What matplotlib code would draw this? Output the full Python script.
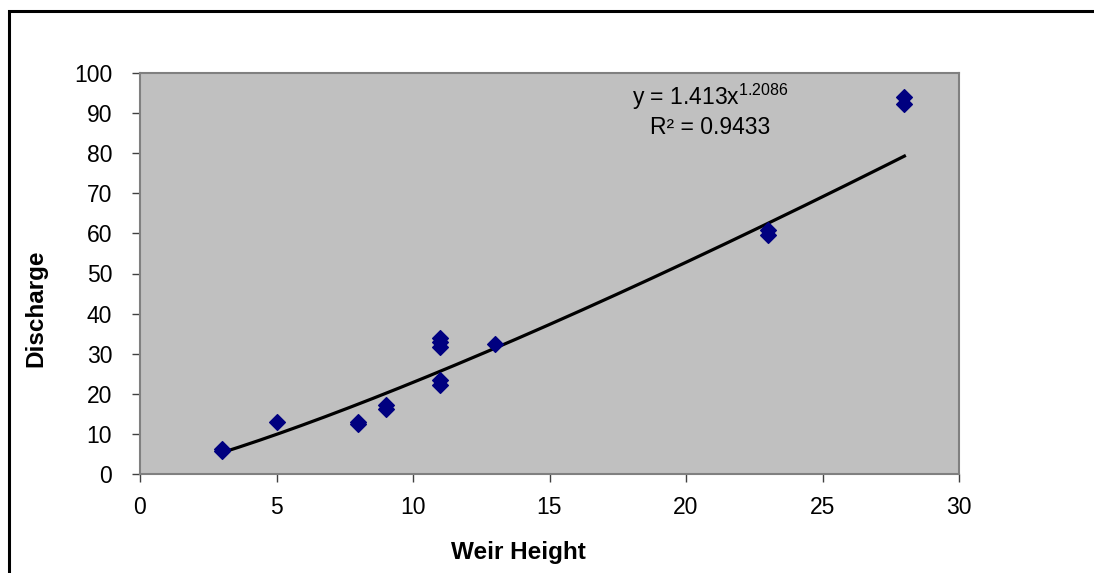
import numpy as np
import matplotlib
matplotlib.use("Agg")
import matplotlib.pyplot as plt
from matplotlib.patches import Rectangle

# Data
weir_height = [3, 3, 5, 8, 8, 9, 9, 11, 11, 11, 11, 11, 13, 23, 23, 28, 28]
discharge = [5.8, 6.3, 13.0, 12.4, 12.9, 16.2, 17.2, 31.7, 33.0, 33.8, 22.2, 23.4,
             32.3, 59.6, 60.8, 92.2, 94.1]

# Power trendline coefficients shown on the chart
coef_a = 1.413
coef_b = 1.2086
r_squared = 0.9433

x_ticks = [0, 5, 10, 15, 20, 25, 30]
y_ticks = [0, 10, 20, 30, 40, 50, 60, 70, 80, 90, 100]

plt.rcParams['font.family'] = ['Liberation Sans', 'DejaVu Sans']
plt.rcParams['mathtext.fontset'] = 'custom'
plt.rcParams['mathtext.rm'] = 'Liberation Sans'
plt.rcParams['mathtext.it'] = 'Liberation Sans'

fig = plt.figure(figsize=(10.94, 5.73), dpi=100)
fig.patch.set_facecolor('white')

# outer chart border (extends beyond right/bottom of the image)
fig.patches.append(Rectangle((9 / 1094, -0.05), 1.2, (573 - 11) / 573 + 0.05,
                             transform=fig.transFigure, fill=False,
                             edgecolor='black', linewidth=2.2, zorder=0))

ax = fig.add_axes([140 / 1094, (573 - 474) / 573, (959 - 140) / 1094, (474 - 73) / 573])
ax.set_facecolor('#c0c0c0')
for s in ax.spines.values():
    s.set_color('#808080')
    s.set_linewidth(1.5)

ax.scatter(weir_height, discharge, marker='D', s=64, color='#000080',
           edgecolors='#000080', zorder=3)

xs = np.linspace(min(weir_height), max(weir_height), 200)
ax.plot(xs, coef_a * xs ** coef_b, color='black', linewidth=2.3, zorder=2)

ax.set_xlim(0, 30)
ax.set_ylim(0, 100)
ax.set_xticks(x_ticks)
ax.set_yticks(y_ticks)
ax.tick_params(axis='both', direction='out', length=6, width=1, color='#404040',
               labelsize=16.5, labelcolor='black')
ax.tick_params(axis='y', pad=14)
ax.tick_params(axis='x', pad=10)

fig.text(518 / 1094, 1 - 553 / 573, 'Weir Height', fontsize=17.5, fontweight='bold',
         ha='center', va='center')
fig.text(36 / 1094, 1 - 308 / 573, 'Discharge', fontsize=17.5, fontweight='bold',
         ha='center', va='center', rotation=90)

fig.text(710 / 1094, 1 - 97 / 573, r'y = 1.413x$^{\mathrm{1.2086}}$',
         ha='center', va='center', fontsize=16.5)
fig.text(710 / 1094, 1 - 127 / 573, 'R² = 0.9433',
         ha='center', va='center', fontsize=16.5)

fig.savefig('out.png', dpi=100)
